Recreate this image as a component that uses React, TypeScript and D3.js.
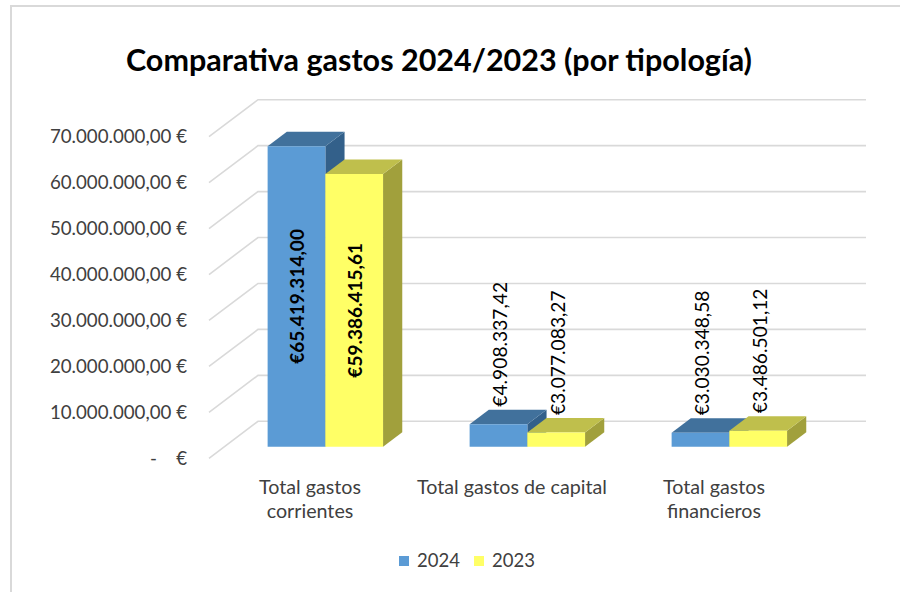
import React, { useEffect } from "react";
import * as d3 from "d3";

const title = "Comparativa gastos 2024/2023 (por tipología)";
const categories = [["Total gastos", "corrientes"], ["Total gastos de capital"], ["Total gastos", "financieros"]];
const seriesNames = ["2024", "2023"];
const values2024 = [65419314.0, 4908337.42, 3030348.58];
const values2023 = [59386415.61, 3077083.27, 3486501.12];
const yTicks = [0, 10000000, 20000000, 30000000, 40000000, 50000000, 60000000, 70000000];

const W = 900;
const H = 592;
const FONT = "Lato, 'Open Sans', 'DejaVu Sans', sans-serif";

const locale = d3.formatLocale({ decimal: ",", thousands: ".", grouping: [3], currency: ["€", ""] });
const fmt = locale.format(",.2f");

const colors = {
  front: ["#5B9BD5", "#FFFF66"],
  top: ["#41719C", "#BFBF4C"],
  side: ["#33608A", "#A1A03C"],
};

export default function App() {
  useEffect(() => {
    document.body.style.margin = "0";
  }, []);

  const xFront0 = 209;
  const xFront1 = 815;
  const depthDX = 49;
  const depthDY = -37;
  const y = d3.scaleLinear().domain([0, 70000000]).range([458.3, 136.7]);
  const x0 = d3.scaleBand<number>().domain(categories.map((_, i) => i)).range([xFront0, xFront1]).padding(0);
  const barW = x0.bandwidth() / 3.5;
  const d0 = 0.313;
  const d1 = 0.705;
  const proj = (x: number, v: number, d: number): [number, number] => [x + d * depthDX, y(v) + d * depthDY];

  const series = [values2024, values2023];

  const pts = (arr: [number, number][]) => arr.map((p) => p.join(",")).join(" ");

  return (
    <svg width={W} height={H} style={{ display: "block", background: "#fff" }} fontFamily={FONT}>
      <rect x={11} y={6} width={1000} height={1000} fill="#fff" stroke="#d9d9d9" strokeWidth={2} />
      <text x={439} y={71} textAnchor="middle" fontSize={30.5} fontWeight="bold" fill="#000">
        {title}
      </text>

      {yTicks.map((t) => {
        const a = proj(xFront0, t, 0);
        const b = proj(xFront0, t, 1);
        const c = proj(xFront1 + 2, t, 1);
        return (
          <polyline key={t} points={pts([a, b, c])} fill="none" stroke="#d9d9d9" strokeWidth={1.6} />
        );
      })}

      {yTicks.map((t) => (
        <text
          key={"l" + t}
          x={187}
          y={y(t)}
          dy="0.35em"
          textAnchor="end"
          fontSize={18.7}
          fill="#404040"
          style={{ whiteSpace: "pre" }}
        >
          {t === 0 ? "-    €" : fmt(t) + " €"}
        </text>
      ))}

      {categories.map((_, ci) => {
        const center = (x0(ci) as number) + x0.bandwidth() / 2;
        return (
          <g key={"c" + ci}>
            {series.map((vals, si) => {
              const v = vals[ci];
              const xl = center - barW + si * barW;
              const xr = xl + barW;
              const fl0 = proj(xl, 0, d0);
              const fr0 = proj(xr, 0, d0);
              const flt = proj(xl, v, d0);
              const frt = proj(xr, v, d0);
              const blt = proj(xl, v, d1);
              const brt = proj(xr, v, d1);
              const br0 = proj(xr, 0, d1);
              return (
                <g key={"b" + si}>
                  <polygon points={pts([fr0, frt, brt, br0])} fill={colors.side[si]} />
                  <polygon points={pts([flt, frt, brt, blt])} fill={colors.top[si]} />
                  <polygon points={pts([fl0, fr0, frt, flt])} fill={colors.front[si]} />
                </g>
              );
            })}
          </g>
        );
      })}

      {categories.map((_, ci) => {
        const center = (x0(ci) as number) + x0.bandwidth() / 2;
        return series.map((vals, si) => {
          const v = vals[ci];
          const xl = center - barW + si * barW;
          const cx = xl + barW / 2 + d0 * depthDX;
          const yTop = y(v) + d0 * depthDY;
          const yBot = y(0) + d0 * depthDY;
          const inside = yBot - yTop > 170;
          const label = "€" + fmt(v);
          if (inside) {
            const cy = (yTop + yBot) / 2;
            return (
              <text
                key={"dl" + ci + si}
                transform={`translate(${cx},${cy}) rotate(-90)`}
                textAnchor="middle"
                dominantBaseline="central"
                fontSize={19}
                fontWeight="bold"
                fill="#000"
              >
                {label}
              </text>
            );
          }
          const ay = y(v) + d1 * depthDY - 3;
          return (
            <text
              key={"dl" + ci + si}
              transform={`translate(${cx + 1},${ay}) rotate(-90)`}
              textAnchor="start"
              dominantBaseline="central"
              fontSize={19.2}
              fill="#000"
            >
              {label}
            </text>
          );
        });
      })}

      {categories.map((lines, ci) => {
        const center = (x0(ci) as number) + x0.bandwidth() / 2;
        return (
          <text key={"cat" + ci} textAnchor="middle" fontSize={19.7} fill="#404040">
            {lines.map((ln, li) => (
              <tspan key={li} x={center} y={487 + li * 24} dy="0.35em">
                {ln}
              </tspan>
            ))}
          </text>
        );
      })}

      {seriesNames.map((s, si) => {
        const lx = 399 + si * 75;
        return (
          <g key={"lg" + s}>
            <rect x={lx} y={556} width={10} height={10} fill={colors.front[si]} />
            <text x={lx + 18} y={561} dy="0.35em" fontSize={18.5} fill="#404040">
              {s}
            </text>
          </g>
        );
      })}
    </svg>
  );
}
